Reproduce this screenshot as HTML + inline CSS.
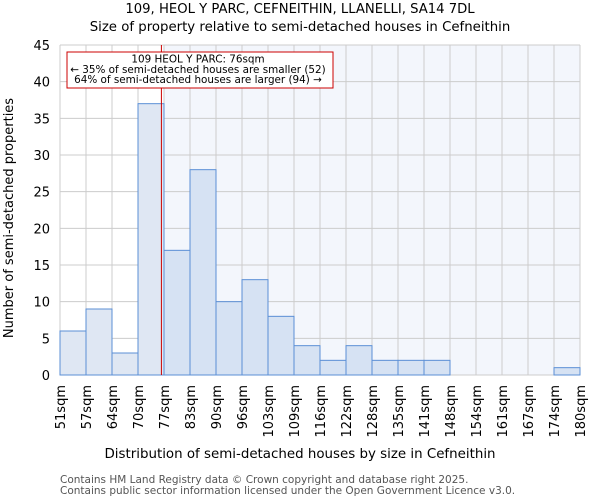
<!DOCTYPE html>
<html><head><meta charset="utf-8"><style>
body{margin:0;background:#fff;font-family:"DejaVu Sans","Liberation Sans",sans-serif;}
</style></head><body>
<svg id="c" width="600" height="500" xmlns="http://www.w3.org/2000/svg" font-family="DejaVu Sans, Liberation Sans, sans-serif">
<text x="300" y="13" text-anchor="middle" font-size="13.2">109, HEOL Y PARC, CEFNEITHIN, LLANELLI, SA14 7DL</text>
<text x="300" y="31" text-anchor="middle" font-size="13.3">Size of property relative to semi-detached houses in Cefneithin</text>
<g id="plot"></g>
<text x="300" y="458" text-anchor="middle" font-size="13.4">Distribution of semi-detached houses by size in Cefneithin</text>
<text transform="translate(13,218) rotate(-90)" text-anchor="middle" font-size="13">Number of semi-detached properties</text>
<text x="60" y="483" font-size="10.5" fill="#555">Contains HM Land Registry data © Crown copyright and database right 2025.</text>
<text x="60" y="494" font-size="10.5" fill="#555">Contains public sector information licensed under the Open Government Licence v3.0.</text>
</svg>
<script>
const categories=["51sqm","57sqm","64sqm","70sqm","77sqm","83sqm","90sqm","96sqm","103sqm","109sqm","116sqm","122sqm","128sqm","135sqm","141sqm","148sqm","154sqm","161sqm","167sqm","174sqm","180sqm"];
const counts=[6,9,3,37,17,28,10,13,8,4,2,4,2,2,2,0,0,0,0,1];
const yTicks=[0,5,10,15,20,25,30,35,40,45];
const markerBin=3.9;
const NS="http://www.w3.org/2000/svg";
const L=60,R=580,T=45,B=375,yMax=45;
const bw=(R-L)/counts.length;
const xs=i=>L+i*bw;
const ys=v=>B-(v/yMax)*(B-T);
const g=document.getElementById('plot');
function mk(t,a){const e=document.createElementNS(NS,t);for(const k in a)e.setAttribute(k,a[k]);g.appendChild(e);return e;}
const mx=xs(markerBin);
const hi=mk('rect',{x:xs(4),y:T,width:R-xs(4),height:B-T,fill:'#f3f6fc'});


for(let i=0;i<=counts.length;i++){const l=mk('line',{x1:xs(i),x2:xs(i),y1:T,y2:B,stroke:'#cccccc','stroke-width':1});

}
yTicks.forEach(v=>{const l=mk('line',{x1:L,x2:R,y1:ys(v),y2:ys(v),stroke:'#cccccc','stroke-width':1});


const t=mk('text',{x:L-10,y:ys(v)+5,'text-anchor':'end','font-size':13});t.textContent=v;

});
counts.forEach((v,i)=>{if(v<=0)return;const r=mk('rect',{x:xs(i),y:ys(v),width:bw,height:B-ys(v),fill:i<4?'#dfe7f3':'#d6e2f3',stroke:'#5b8fd6','stroke-width':1});

});
categories.forEach((c,i)=>{const t=mk('text',{transform:`translate(${xs(i)+5},${B+10}) rotate(-90)`,'text-anchor':'end','font-size':13});t.textContent=c;

});
const ml=mk('line',{x1:mx,x2:mx,y1:T,y2:B,stroke:'#cc0000','stroke-width':1});


const box=mk('rect',{x:67,y:52,width:266,height:36,fill:'#fff',stroke:'#cc0000','stroke-width':1});


["109 HEOL Y PARC: 76sqm","← 35% of semi-detached houses are smaller (52)","64% of semi-detached houses are larger (94) →"].forEach((s,k)=>{const t=mk('text',{x:198,y:62.5+k*10.3,'text-anchor':'middle','font-size':10.4});t.textContent=s;

});
</script>
</body></html>
